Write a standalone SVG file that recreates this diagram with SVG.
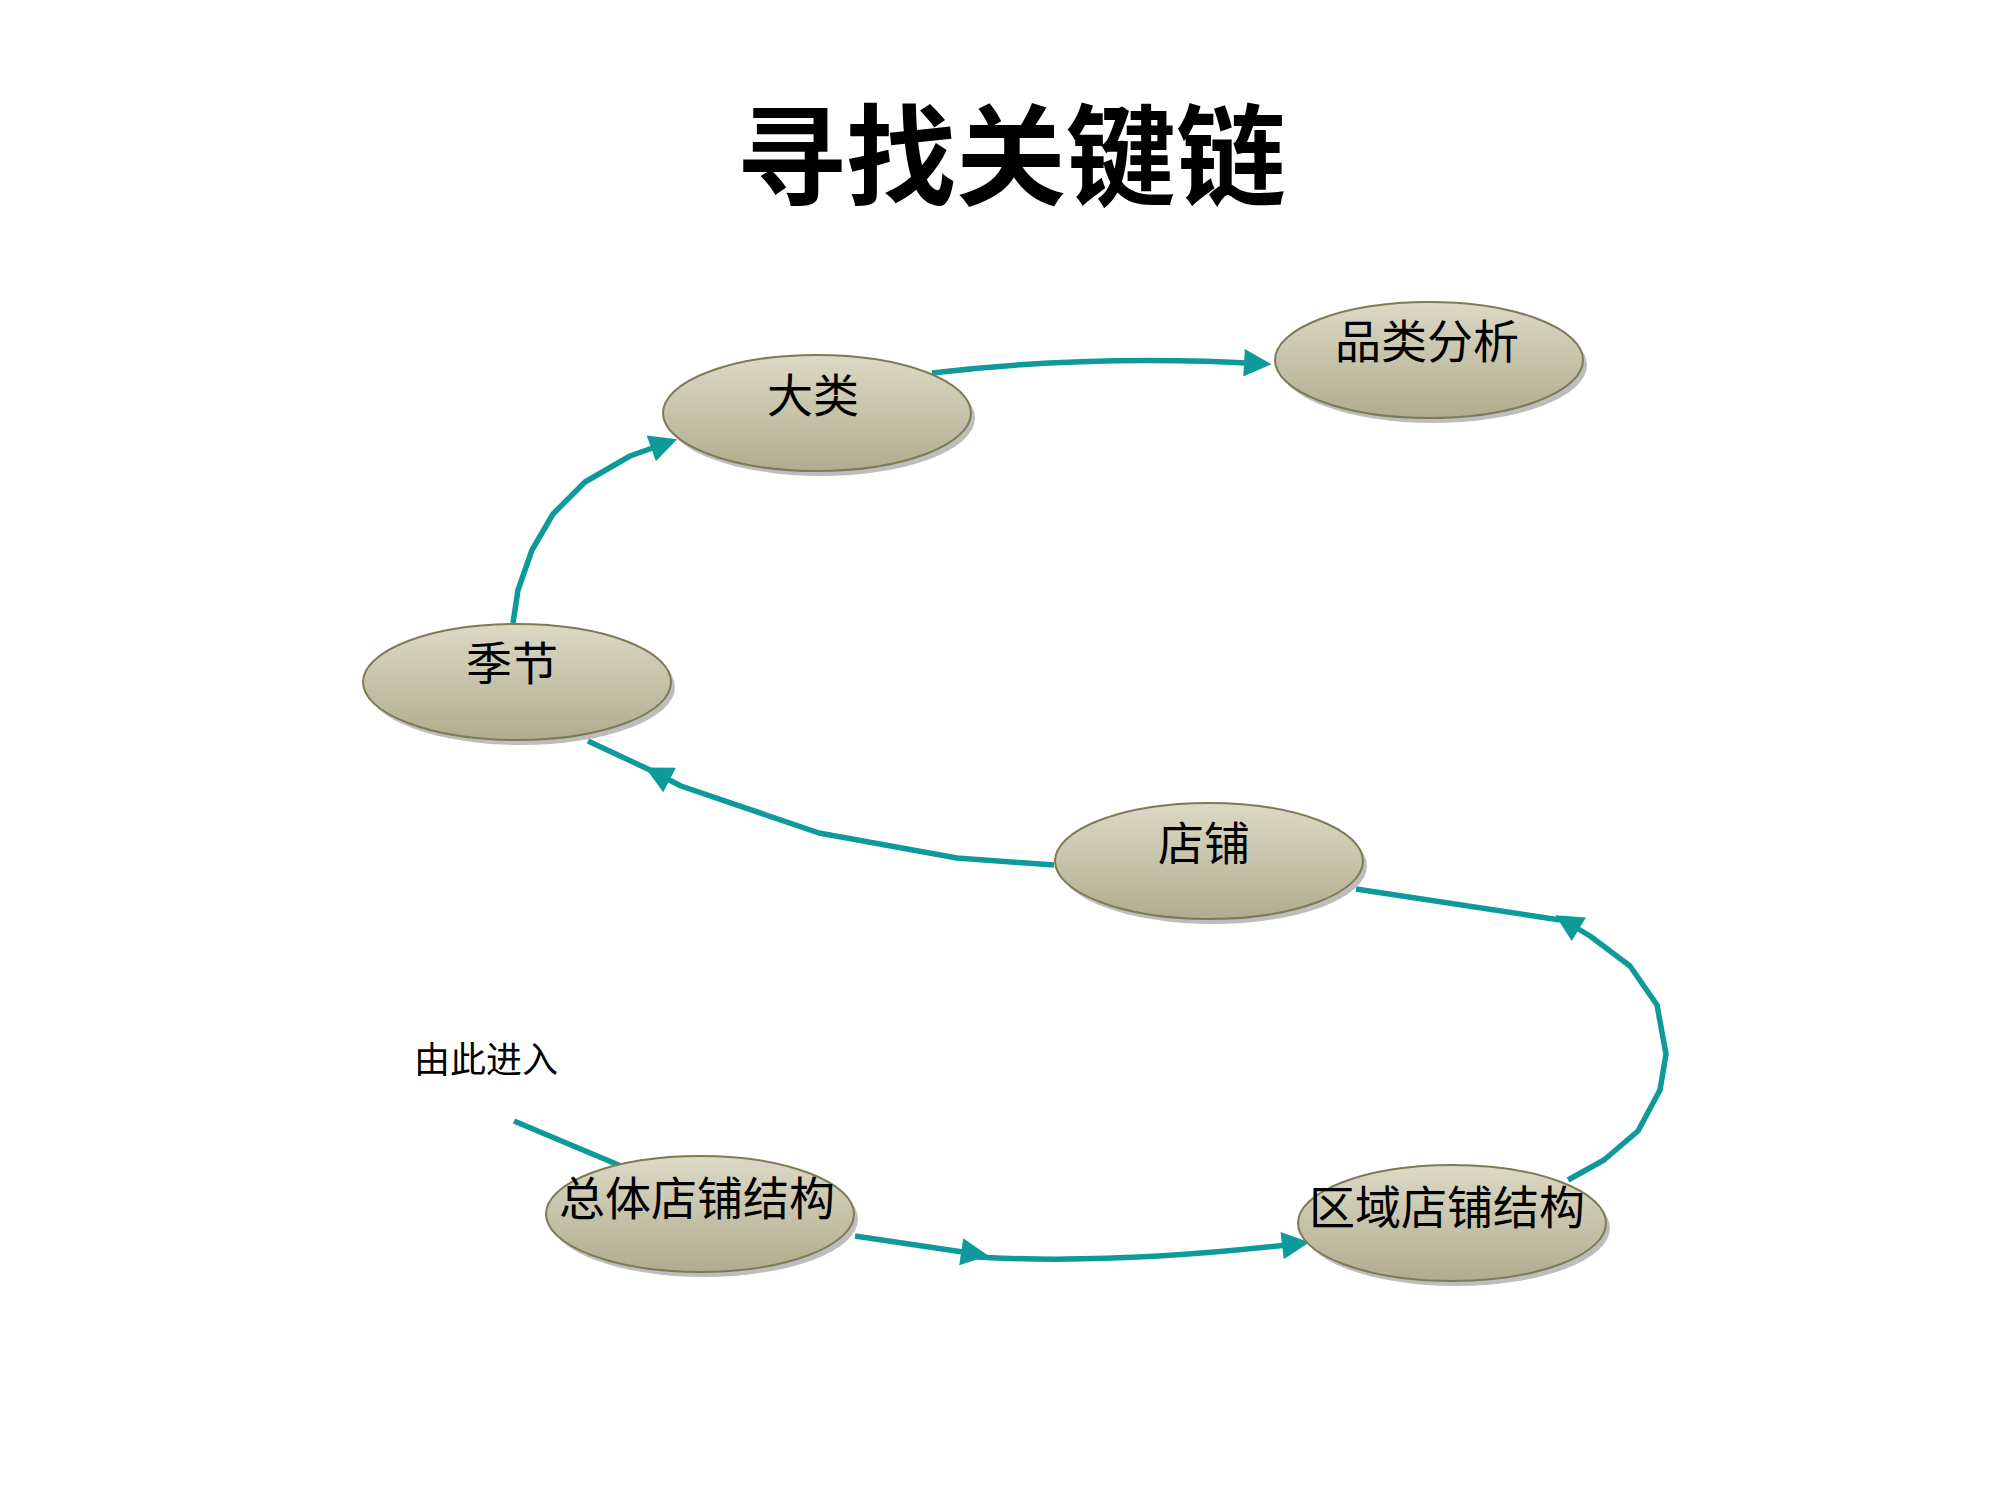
<svg xmlns="http://www.w3.org/2000/svg" width="2000" height="1500" viewBox="0 0 2000 1500">
<style>
.n{fill:url(#g);stroke:#7d7b55;stroke-width:2}
.sh{fill:#bdbdbd}
.t{font-family:"Liberation Serif","Noto Sans CJK SC",serif;font-size:46px;text-anchor:middle;fill:#000}
.c{fill:none;stroke:#0E9A9A;stroke-width:5.5;stroke-linejoin:round}
</style>
<defs>
<linearGradient id="g" x1="0" y1="0" x2="0" y2="1"><stop offset="0" stop-color="#dcdac6"/><stop offset="1" stop-color="#afac8f"/></linearGradient>
<marker id="a" viewBox="0 0 10 10" refX="8" refY="5" markerWidth="6" markerHeight="5" orient="auto" markerUnits="strokeWidth"><path d="M0,0 L10,5 L0,10 Z" fill="#0E9A9A"/></marker>
</defs>
<rect width="2000" height="1500" fill="#fff"/>
<text x="1011" y="197" font-family="'Noto Sans CJK SC',sans-serif" font-weight="bold" font-size="110" text-anchor="middle">寻找关键链</text>
<g id="connectors">
<path class="c" d="M514,1121 L621,1166"/>
<path class="c" d="M855,1236 L983,1255" marker-end="url(#a)"/>
<path class="c" d="M977,1257 Q1118,1265 1304,1243" marker-end="url(#a)"/>
<path class="c" d="M1568,1180 L1604,1160 L1638,1131 L1660,1090 L1666,1054 L1657,1005 L1630,966 L1590,936 L1560,918" marker-end="url(#a)"/>
<path class="c" d="M1560,920 L1356,889"/>
<path class="c" d="M1054,865 L957,858 L819,833 L681,786 L650,770" marker-end="url(#a)"/>
<path class="c" d="M650,770 L588,741"/>
<path class="c" d="M513,623 L518,590 L532,550 L553,514 L585,482 L630,456 L672,441" marker-end="url(#a)"/>
<path class="c" d="M932,373 Q1092,354 1266,364" marker-end="url(#a)"/>
</g>
<g id="n1"><ellipse class="sh" cx="821" cy="418" rx="154" ry="58"/><ellipse class="n" cx="817" cy="413" rx="154" ry="58"/><text class="t" x="813" y="412">大类</text></g>
<g id="n2"><ellipse class="sh" cx="1433" cy="365" rx="154" ry="58"/><ellipse class="n" cx="1429" cy="360" rx="154" ry="58"/><text class="t" x="1427" y="358">品类分析</text></g>
<g id="n3"><ellipse class="sh" cx="521" cy="687" rx="154" ry="58"/><ellipse class="n" cx="517" cy="682" rx="154" ry="58"/><text class="t" x="512" y="680">季节</text></g>
<g id="n4"><ellipse class="sh" cx="1213" cy="866" rx="154" ry="58"/><ellipse class="n" cx="1209" cy="861" rx="154" ry="58"/><text class="t" x="1204" y="860">店铺</text></g>
<g id="n5"><ellipse class="sh" cx="704" cy="1219" rx="154" ry="58"/><ellipse class="n" cx="700" cy="1214" rx="154" ry="58"/><text class="t" x="697" y="1215">总体店铺结构</text></g>
<g id="n6"><ellipse class="sh" cx="1456" cy="1228" rx="154" ry="58"/><ellipse class="n" cx="1452" cy="1223" rx="154" ry="58"/><text class="t" x="1447" y="1224">区域店铺结构</text></g>
<text x="486" y="1073" font-family="'Liberation Serif','Noto Sans CJK SC',serif" font-size="36" text-anchor="middle">由此进入</text>
</svg>
